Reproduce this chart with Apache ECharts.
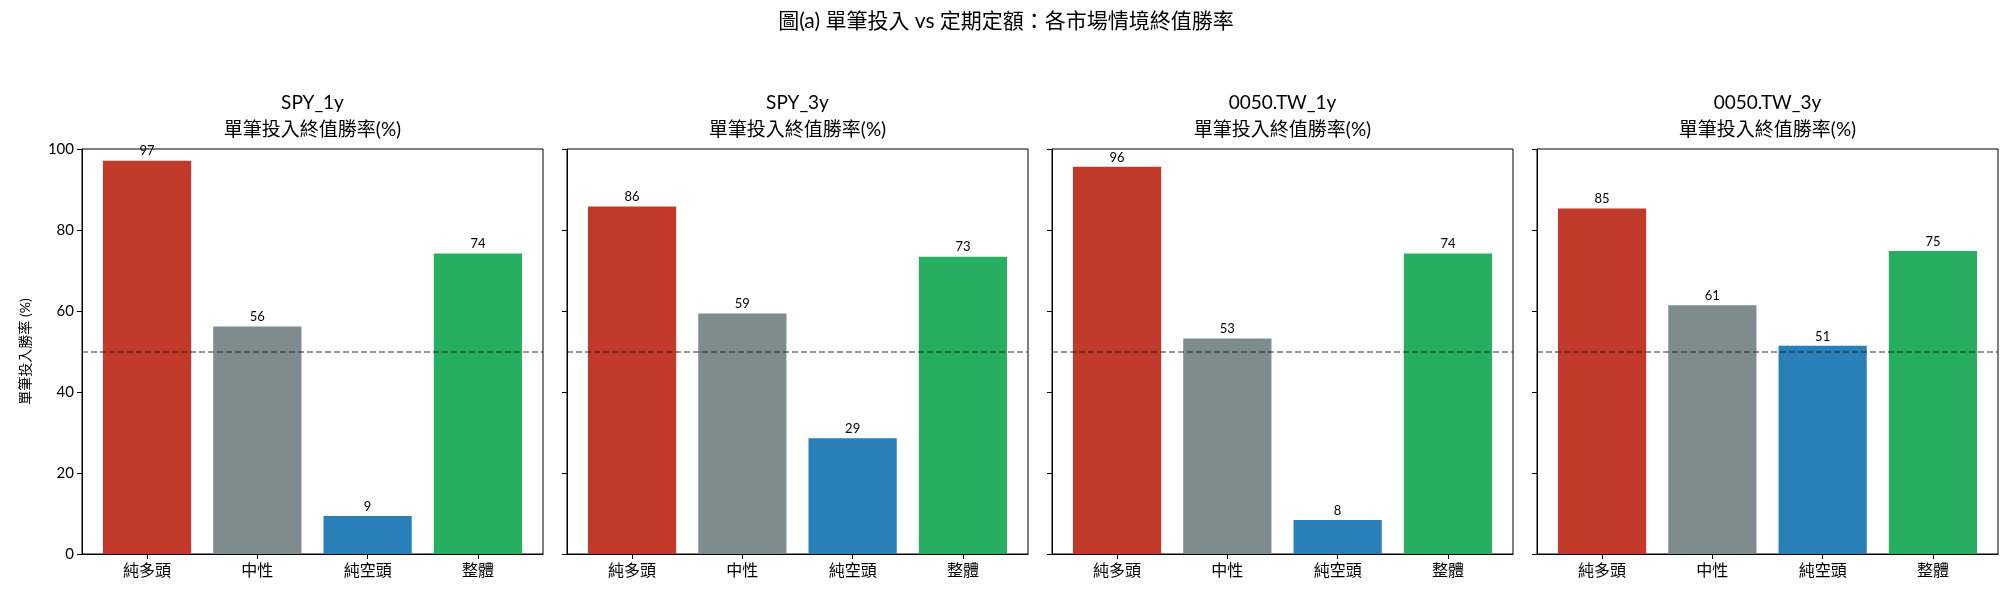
<!DOCTYPE html>
<html>
<head>
<meta charset="utf-8">
<script src="https://cdn.jsdelivr.net/npm/echarts@6/dist/echarts.min.js"></script>
<style>
    html, body { margin: 0; padding: 0; background: #fff; }
    #main { width: 2016px; height: 600px; }
</style>
</head>
<body>
<div id="main"></div>
<script>
// 資料
var categories = ['純多頭', '中性', '純空頭', '整體'];
var panelNames = ['SPY_1y', 'SPY_3y', '0050.TW_1y', '0050.TW_3y'];
var spy1y = [97.1, 56.2, 9.4, 74.2];
var spy3y = [85.8, 59.4, 28.6, 73.4];
var tw1y = [95.6, 53.2, 8.4, 74.2];
var tw3y = [85.3, 61.4, 51.4, 74.8];
var panelValues = [spy1y, spy3y, tw1y, tw3y];
var barColors = ['#c0392b', '#7f8c8d', '#2980b9', '#27ae60'];
var yTicks = [0, 20, 40, 60, 80, 100];
var refLine = 50;

var FONT = "Lato, 'Noto Sans CJK TC', sans-serif";
var chart = echarts.init(document.getElementById('main'));

/**
 * 版面：四個子圖
 */
var gridLeft = 82, gridW = 461, gridGap = 24, gridTop = 149, gridH = 405;
// matplotlib 預設：寬 0.8 的長條 + 5% 邊界
var xMin = -0.4 - 0.05 * (categories.length - 1 + 0.8);
var xMax = categories.length - 1 + 0.4 + 0.05 * (categories.length - 1 + 0.8);
var barW = 0.8 / (xMax - xMin) * gridW;

var grids = [], xAxes = [], yAxes = [], series = [];
var titles = [{
    text: '圖(a) 單筆投入 vs 定期定額：各市場情境終值勝率',
    left: 1006,
    top: 11,
    textAlign: 'center',
    padding: 0,
    textStyle: { fontFamily: FONT, fontSize: 21, fontWeight: 'normal', color: '#000' }
}];

panelValues.forEach(function (vals, i) {
    var left = gridLeft + i * (gridW + gridGap);
    grids.push({
        left: left, top: gridTop, width: gridW, height: gridH,
        show: true, borderColor: '#000', borderWidth: 1, backgroundColor: 'transparent'
    });
    titles.push({
        text: panelNames[i] + '\n單筆投入終值勝率(%)',
        left: left + gridW / 2,
        top: 89,
        textAlign: 'center',
        padding: 0,
        textStyle: { fontFamily: FONT, fontSize: 19, fontWeight: 'normal', color: '#000', lineHeight: 27 }
    });
    xAxes.push({
        type: 'value',
        gridIndex: i,
        min: xMin,
        max: xMax,
        splitLine: { show: false },
        axisLine: { show: true, onZero: false, lineStyle: { color: '#000', width: 1 } },
        axisTick: { show: true, customValues: [0, 1, 2, 3], length: 5, lineStyle: { color: '#000' } },
        axisLabel: {
            customValues: [0, 1, 2, 3],
            margin: 9,
            fontFamily: FONT, fontSize: 16, color: '#000',
            formatter: function (v) { return categories[Math.round(v)] || ''; }
        }
    });
    yAxes.push({
        type: 'value',
        gridIndex: i,
        min: yTicks[0],
        max: yTicks[yTicks.length - 1],
        interval: 20,
        name: i === 0 ? '單筆投入勝率 (%)' : '',
        nameLocation: 'middle',
        nameGap: 50,
        nameRotate: 90,
        nameTextStyle: { fontFamily: FONT, fontSize: 14, color: '#000' },
        splitLine: { show: false },
        axisLine: { show: true, onZero: false, lineStyle: { color: '#000', width: 1 } },
        axisTick: { show: true, length: 5, lineStyle: { color: '#000' } },
        axisLabel: {
            show: i === 0,
            margin: 8,
            fontFamily: FONT, fontSize: 15, color: '#000'
        }
    });
    series.push({
        type: 'bar',
        xAxisIndex: i,
        yAxisIndex: i,
        barWidth: barW,
        data: vals.map(function (v, k) {
            return { value: [k, v], itemStyle: { color: barColors[k] } };
        }),
        label: {
            show: true,
            position: 'top',
            distance: 3,
            fontFamily: FONT,
            fontSize: 13,
            color: '#000',
            formatter: function (p) { return p.value[1].toFixed(0); }
        },
        markLine: {
            silent: true,
            symbol: 'none',
            label: { show: false },
            lineStyle: { type: [6, 3], color: 'rgba(20,20,20,0.6)', width: 1.5 },
            data: [{ yAxis: refLine }]
        },
        animation: false
    });
});

var option = {
    backgroundColor: '#fff',
    animation: false,
    title: titles,
    grid: grids,
    xAxis: xAxes,
    yAxis: yAxes,
    series: series
};
chart.setOption(option);
</script>
</body>
</html>
